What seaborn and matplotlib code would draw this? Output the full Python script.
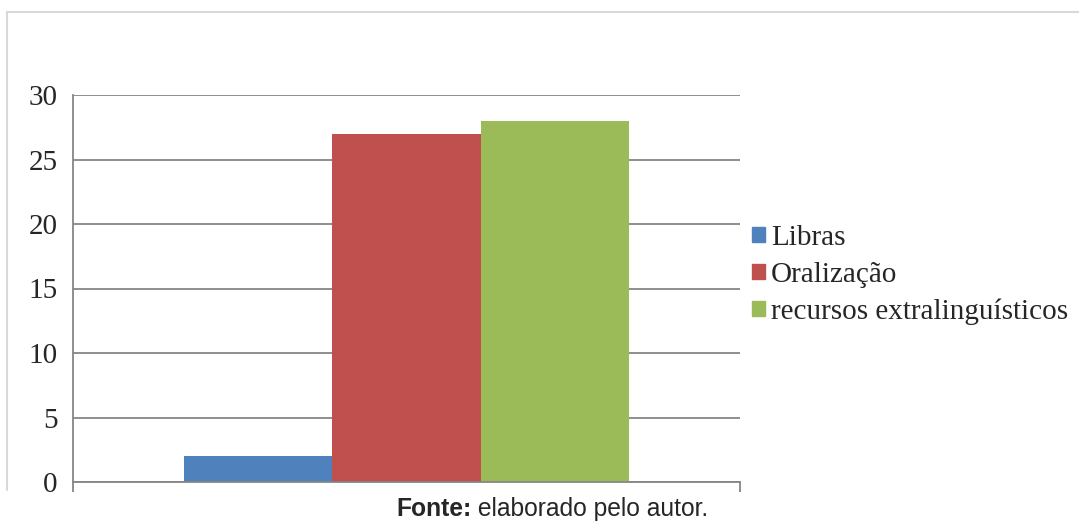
import matplotlib
matplotlib.use("Agg")
import matplotlib.pyplot as plt
import seaborn as sns
import pandas as pd
from matplotlib.lines import Line2D

categories = [""]
series = ["Libras", "Oralização", "recursos extralinguísticos"]
values = [2, 27, 28]
yticks = [0, 5, 10, 15, 20, 25, 30]
colors = ["#4F81BD", "#C0504D", "#9BBB59"]
source_bold = "Fonte:"
source_text = " elaborado pelo autor."

sns.set_style("white")
plt.rcParams["font.family"] = ["Liberation Serif", "DejaVu Serif"]

df = pd.DataFrame({"cat": categories * len(series), "serie": series, "valor": values})

fig = plt.figure(figsize=(10.79, 5.26), dpi=100)
ax = fig.add_axes([73 / 1079, 1 - 482 / 526, (740 - 73) / 1079, (482 - 95) / 526])

sns.barplot(data=df, x="cat", y="valor", hue="serie", hue_order=series,
            palette=colors, width=0.666, gap=0, saturation=1, ax=ax,
            edgecolor="none", linewidth=0, legend=False)

ax.set_xlim(-0.5, 0.5)
ax.set_ylim(0, 30)
ax.set_yticks(yticks)
ax.set_yticklabels([str(t) for t in yticks], fontsize=21)
ax.set_xticks([-0.5, 0.5])
ax.set_xticklabels(["", ""])
ax.set_xlabel("")
ax.set_ylabel("")
ax.grid(axis="y", color="#868686", linewidth=1.3)
ax.set_axisbelow(True)
for s in ["top", "right"]:
    ax.spines[s].set_visible(False)
for s in ["left", "bottom"]:
    ax.spines[s].set_color("#868686")
    ax.spines[s].set_linewidth(1.3)
ax.tick_params(axis="y", direction="out", length=8, width=1.3, color="#868686", pad=3)
ax.tick_params(axis="x", direction="out", length=7.5, width=1.3, color="#868686",
               bottom=True)
for tl in ax.xaxis.get_ticklines():
    tl.set_clip_on(False)

handles = [plt.Rectangle((0, 0), 1, 1, color=c) for c in colors]
fig.legend(handles, series, loc="center left",
           bbox_to_anchor=(752 / 1079, 1 - 275 / 526), frameon=False,
           fontsize=21, handlelength=0.43, handleheight=0.43,
           handletextpad=0.22, labelspacing=0.36, borderpad=0, borderaxespad=0)

# light outer frame
fig.add_artist(Line2D([7 / 1079, 1.0], [1 - 12 / 526, 1 - 12 / 526],
                      transform=fig.transFigure, color="#D9D9D9", linewidth=1.5))
fig.add_artist(Line2D([7 / 1079, 7 / 1079], [1 - 12 / 526, 1 - 490 / 526],
                      transform=fig.transFigure, color="#D9D9D9", linewidth=1.5))

t1 = fig.text(396 / 1079, 1 - 509 / 526, source_bold, fontsize=17.7, fontweight="bold",
              family=["Liberation Sans", "DejaVu Sans"], va="center", ha="left")
fig.canvas.draw()
bb = t1.get_window_extent()
fig.text(bb.x1 / 1079, 1 - 509 / 526, source_text, fontsize=17.7,
         family=["Liberation Sans", "DejaVu Sans"], va="center", ha="left")

fig.savefig("out.png", dpi=100)
